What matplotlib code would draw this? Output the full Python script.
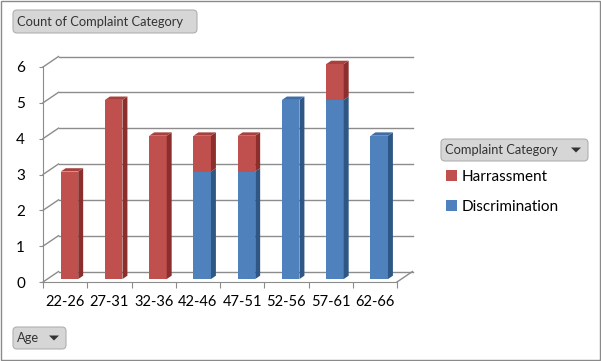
import numpy as np
import matplotlib.pyplot as plt
from matplotlib.patches import Polygon, FancyBboxPatch, Rectangle

plt.rcParams['font.family'] = ['Lato', 'DejaVu Sans']

# dados
ages = ['22-26', '27-31', '32-36', '42-46', '47-51', '52-56', '57-61', '62-66']
discrimination = [0, 0, 0, 3, 3, 5, 5, 4]
harrassment = [3, 5, 4, 1, 1, 0, 1, 0]

# cores (front, side, top)
red = ('#C0504D', '#8C2F2C', '#A8413E')
blue = ('#4F81BD', '#2E5786', '#3F6DA5')
grid_c = '#8C8C8C'

W, H = 601, 361
fig = plt.figure(figsize=(W / 100, H / 100), dpi=100)

# fundo em pixels (moldura e botões)
bg = fig.add_axes([0, 0, 1, 1])
bg.set_xlim(0, W)
bg.set_ylim(H, 0)
bg.axis('off')
bg.add_patch(Rectangle((0.5, 0.5), W - 1.5, H - 1.5, fill=False, ec='#8A8A8A', lw=1))


def botao(x0, y0, w, h, txt, seta=False):
    bg.add_patch(FancyBboxPatch((x0, y0), w, h, boxstyle='round,pad=0,rounding_size=4',
                                fc='#D6D6D6', ec='#B0B0B0', lw=0.8))
    bg.text(x0 + 4, y0 + h / 2 + 0.5, txt, fontsize=9.3, color='#333333', va='center', ha='left')
    if seta:
        xa = x0 + w - 12
        ya = y0 + h / 2
        bg.add_patch(Polygon([(xa - 5, ya - 2.5), (xa + 5, ya - 2.5), (xa, ya + 2.5)],
                             closed=True, fc='#333333', ec='none'))


botao(13, 10, 184, 23, 'Count of Complaint Category')
botao(13, 327, 53, 22, 'Age', seta=True)
botao(441, 139, 147, 22, 'Complaint Category', seta=True)

# eixo do gráfico (plano frontal)
x0p, x1p, y0p, y1p = 43, 397, 282, 67
ax = fig.add_axes([x0p / W, (H - y0p) / H, (x1p - x0p) / W, (y0p - y1p) / H])
ax.set_xlim(0, len(ages))
ax.set_ylim(0, 6)
ax.patch.set_alpha(0)

# profundidade (em unidades de dados)
DX = 15.5 / ((x1p - x0p) / len(ages))
DY = 10.5 / ((y0p - y1p) / 6)
f0, f1 = 0.28, 0.6
w = 0.395

# paredes: grade no fundo e na lateral
levels = np.arange(0, 7)
for v in levels:
    ax.plot([DX, len(ages) + DX], [v + DY, v + DY], color=grid_c, lw=1, clip_on=False, zorder=1)
    ax.plot([0, DX], [v, v + DY], color=grid_c, lw=1, clip_on=False, zorder=1)
ax.plot([len(ages), len(ages) + DX], [0, DY], color=grid_c, lw=1, clip_on=False, zorder=1)

xc = np.arange(len(ages)) + 0.5
xl = xc - w / 2 + f0 * DX

b1 = ax.bar(xl, discrimination, width=w, bottom=f0 * DY, align='edge',
            color=blue[0], label='Discrimination', zorder=3)
b2 = ax.bar(xl, harrassment, width=w, bottom=np.array(discrimination) + f0 * DY, align='edge',
            color=red[0], label='Harrassment', zorder=3)

dx, dy = (f1 - f0) * DX, (f1 - f0) * DY
for i in range(len(ages)):
    base = 0
    top_col = None
    for vals, cols in ((discrimination, blue), (harrassment, red)):
        v = vals[i]
        if v == 0:
            continue
        xr = xl[i] + w
        yb = base + f0 * DY
        yt = base + v + f0 * DY
        ax.add_patch(Polygon([(xr, yb), (xr + dx, yb + dy), (xr + dx, yt + dy), (xr, yt)],
                             closed=True, fc=cols[1], ec='none', zorder=3, clip_on=False))
        base += v
        top_col = cols
    if top_col is not None:
        yt = base + f0 * DY
        ax.add_patch(Polygon([(xl[i], yt), (xl[i] + w, yt), (xl[i] + w + dx, yt + dy), (xl[i] + dx, yt + dy)],
                             closed=True, fc=top_col[2], ec='none', zorder=3, clip_on=False))

for b in list(b1) + list(b2):
    b.set_clip_on(False)

# eixos
for s in ('top', 'right'):
    ax.spines[s].set_visible(False)
for s in ('left', 'bottom'):
    ax.spines[s].set_color(grid_c)
ax.set_xticks(np.arange(len(ages) + 1))
ax.set_xticklabels([])
ax.set_xticks(xc, minor=True)
ax.set_xticklabels(ages, minor=True, fontsize=10.5)
ax.tick_params(axis='x', which='major', length=4, color=grid_c)
ax.tick_params(axis='x', which='minor', length=0, pad=9)
ax.set_yticks(levels)
ax.tick_params(axis='y', length=3, color=grid_c, labelsize=11, pad=10)

fig.legend(handles=[b2, b1], labels=['Harrassment', 'Discrimination'],
           loc='upper left', bbox_to_anchor=(446 / W, 1 - 170 / H), frameon=False,
           fontsize=11, handlelength=0.72, handleheight=0.72, handletextpad=0.3,
           labelspacing=1.02, borderpad=0, borderaxespad=0)

fig.savefig('out.png', dpi=100)
